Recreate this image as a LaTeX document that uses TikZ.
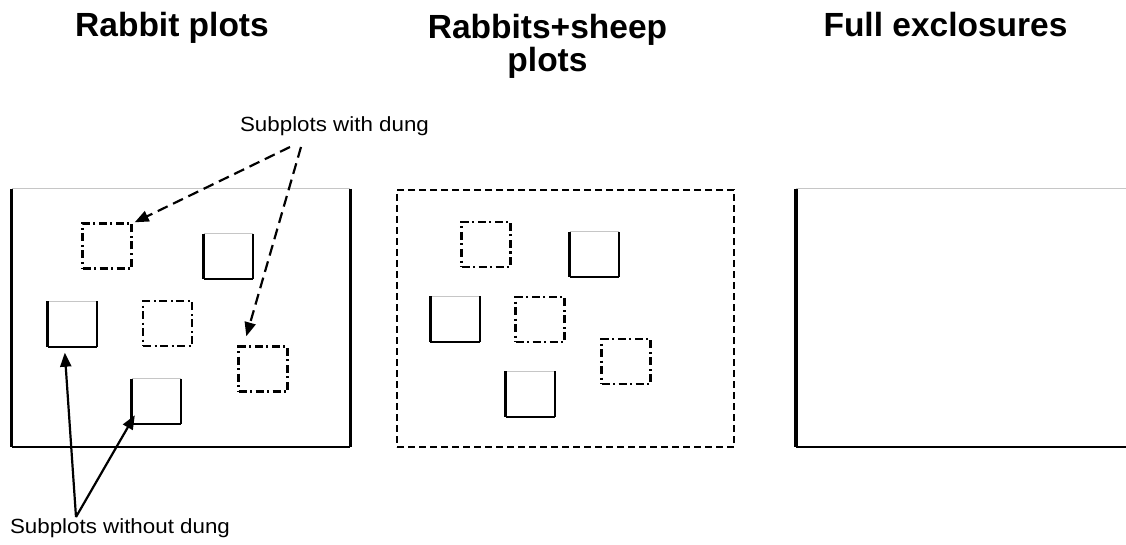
\documentclass[tikz,border=0pt]{standalone}
\usepackage{fontspec}
\setmainfont{Liberation Sans}
\usetikzlibrary{arrows.meta}
\begin{document}
\begin{tikzpicture}[x=1pt,y=-1pt,
  title/.style={font=\fontsize{33.5}{33}\selectfont\bfseries, inner sep=0pt, align=center},
  lbl/.style={font=\fontsize{20.5}{24}\selectfont, inner sep=0pt},
  sub/.style={minimum width=49pt, minimum height=45pt, inner sep=0pt, draw=none},
  ddbox/.style={sub, draw, line width=2.4pt, dash pattern=on 8pt off 3.5pt on 2pt off 3.5pt},
  dashbox/.style={draw, line width=2.3pt, dash pattern=on 7pt off 4pt, inner sep=0pt},
  plotarea/.style={draw=none, inner sep=0pt},
  thinedge/.style={draw=gray!45, line width=1pt},
  thickedge/.style={line width=3pt},
  midedge/.style={line width=2.2pt},
  dasharrow/.style={-{Triangle[length=14pt,width=11pt]}, line width=2.2pt, dash pattern=on 11pt off 6pt},
  solidarrow/.style={-{Triangle[length=14pt,width=11pt]}, line width=2.2pt}
]
\useasboundingbox (0,0) rectangle (1126,545);

% titles
\node[title, anchor=base] (t1) at (172,37) {Rabbit plots};
\node[title, anchor=north] (t2) at (547.5,14) {Rabbits+sheep\\plots};
\node[title, anchor=base] (t3) at (945.5,37) {Full exclosures};

% big plots
\node[plotarea, minimum width=338pt, minimum height=258pt] (rb) at (181,318) {};
\draw[thinedge] (rb.north west) -- (rb.north east);
\draw[thickedge] (rb.north west) -- (rb.south west);
\draw[thickedge] (rb.north east) -- (rb.south east);
\draw[midedge] (rb.south west) -- (rb.south east);

\node[dashbox, minimum width=337pt, minimum height=257pt] (sb) at (565.5,318.5) {};

\node[plotarea, minimum width=330pt, minimum height=258pt] (fe) at (961,318) {};
\draw[thinedge] (fe.north west) -- (fe.north east);
\draw[line width=3.4pt] (fe.north west) -- (fe.south west);
\draw[midedge] (fe.south west) -- (fe.south east);

% rabbit subplots
\node[ddbox] (rd1) at (107,246) {};
\node[sub] (rs1) at (228.5,256.5) {};
\node[sub] (rs2) at (72.5,324) {};
\node[ddbox] (rd2) at (167.5,323.5) {};
\node[ddbox] (rd3) at (263,369) {};
\node[sub] (rs3) at (156.5,401.5) {};

% rabbits+sheep subplots
\node[ddbox] (sd1) at (486,244.5) {};
\node[sub] (ss1) at (594.5,254.5) {};
\node[sub] (ss2) at (455,319) {};
\node[ddbox] (sd2) at (540,319.5) {};
\node[ddbox] (sd3) at (626,361.5) {};
\node[sub] (ss3) at (530.5,394) {};

\foreach \n in {rs1,rs2,rs3,ss1,ss2,ss3}{
  \draw[thinedge] (\n.north west) -- (\n.north east);
  \draw[thickedge] (\n.north west) -- (\n.south west);
  \draw[midedge] (\n.north east) -- (\n.south east);
  \draw[midedge] (\n.south west) -- (\n.south east);
}

% labels
\node[lbl, anchor=base] (with) at (334.5,132) {\scalebox{1.09}[1]{Subplots with dung}};
\node[lbl, anchor=base] (without) at (120,533) {\scalebox{1.09}[1]{Subplots without dung}};

\coordinate (wd1) at (290,147);
\coordinate (wd2) at (301,147);
\coordinate (conv) at (76,517);

\draw[dasharrow] (wd1) -- ([xshift=2pt]rd1.north east);
\draw[dasharrow] (wd2) -- ([xshift=9pt,yshift=9pt]rd3.north west);
\draw[solidarrow] (conv) -- ([xshift=17pt,yshift=-6pt]rs2.south west);
\draw[solidarrow] (conv) -- ([xshift=3pt,yshift=9pt]rs3.south west);
\end{tikzpicture}
\end{document}
